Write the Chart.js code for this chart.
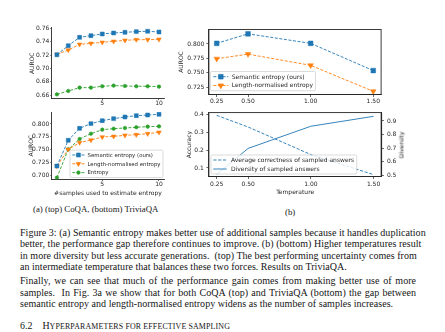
<!DOCTYPE html>
<html>
<head>
<meta charset="utf-8">
<script src="https://cdn.jsdelivr.net/npm/chart.js@4.4.1/dist/chart.umd.min.js"></script>
<style>
  html, body { margin: 0; padding: 0; background: #fff; }
  body { width: 445px; height: 332px; position: relative; overflow: hidden;
         font-family: "Liberation Serif", "Times New Roman", serif; color: #151515; }
  canvas { position: absolute; }
  .line { position: absolute; left: 20px; width: 396px; white-space: nowrap;
          font-size: 10px; letter-spacing: 0.03px; line-height: 11px; }
  .just { text-align: justify; text-align-last: justify; }
  .cap { position: absolute; font-size: 8.8px; line-height: 10px; white-space: nowrap; }
  .vlabel { position: absolute; font-family: "DejaVu Sans", sans-serif; font-size: 6px;
            color: #222; transform: translate(-50%, -50%) rotate(-90deg); white-space: nowrap; }
  .sc { font-size: 7.9px; letter-spacing: 0.15px; }
</style>
</head>
<body>
<canvas id="coqa" width="170" height="106" style="left:0;top:0"></canvas>
<canvas id="trivia" width="170" height="94" style="left:0;top:106px"></canvas>
<canvas id="tempAuroc" width="235" height="106" style="left:175px;top:0"></canvas>
<canvas id="tempDiv" width="240" height="94" style="left:175px;top:106px"></canvas>

<div class="vlabel" style="left:400.5px;top:144.5px">Diversity</div>

<div class="cap" style="left:33px;top:204px">(a) (top) CoQA, (bottom) TriviaQA</div>
<div class="cap" style="left:285px;top:206.5px">(b)</div>

<div class="line just" style="top:226.8px">Figure 3: (a) Semantic entropy makes better use of additional samples because it handles duplication</div>
<div class="line just" style="top:238.2px">better, the performance gap therefore continues to improve. (b) (bottom) Higher temperatures result</div>
<div class="line just" style="top:249.5px">in more diversity but less accurate generations.&nbsp; (top) The best performing uncertainty comes from</div>
<div class="line" style="top:260.6px">an intermediate temperature that balances these two forces. Results on TriviaQA.</div>
<div class="line just" style="top:275.2px">Finally, we can see that much of the performance gain comes from making better use of more</div>
<div class="line just" style="top:286.5px">samples.&nbsp; In Fig. 3a we show that for both CoQA (top) and TriviaQA (bottom) the gap between</div>
<div class="line" style="top:297.8px">semantic entropy and length-normalised entropy widens as the number of samples increases.</div>
<div class="line" style="top:319.5px;font-size:9.9px">6.2&nbsp;&nbsp;&nbsp;&nbsp;H<span class="sc">YPERPARAMETERS FOR EFFECTIVE SAMPLING</span></div>

<script>
// ---- values ----
const sampleCounts = [1, 2, 3, 4, 5, 6, 7, 8, 9, 10];
const coqaSemantic   = [0.7205, 0.734, 0.7465, 0.749, 0.7515, 0.753, 0.754, 0.755, 0.7555, 0.7545];
const coqaLengthNorm = [0.721, 0.7275, 0.736, 0.7375, 0.739, 0.7405, 0.742, 0.743, 0.743, 0.7435];
const coqaEntropy    = [0.6615, 0.6665, 0.6715, 0.6715, 0.6735, 0.6745, 0.674, 0.6735, 0.6735, 0.673];
const triviaSemantic   = [0.7176, 0.768, 0.7915, 0.8007, 0.8065, 0.8105, 0.8137, 0.8163, 0.8176, 0.819];
const triviaLengthNorm = [0.7176, 0.7503, 0.7634, 0.7686, 0.7745, 0.7758, 0.7778, 0.779, 0.781, 0.7837];
const triviaEntropy    = [0.6948, 0.7503, 0.7706, 0.781, 0.7889, 0.7908, 0.7922, 0.7935, 0.7948, 0.7954];
const temperatures   = [0.25, 0.5, 1.0, 1.5];
const tempSemantic   = [0.8011, 0.8176, 0.8011, 0.754];
const tempLengthNorm = [0.7744, 0.7824, 0.763, 0.718];
const tempAccuracy   = [0.394, 0.329, 0.175, 0.063];
const tempDiversity  = [0.507, 0.698, 0.861, 0.934];

// ---- tick labels ----
const sampleTicks      = [5, 10];
const coqaTicks        = [0.66, 0.68, 0.70, 0.72, 0.74, 0.76];
const triviaTicks      = [0.700, 0.725, 0.750, 0.775, 0.800];
const tempAurocTicks   = [0.725, 0.750, 0.775, 0.800];
const temperatureTicks = [0.25, 0.50, 1.00, 1.50];
const accuracyTicks    = [0.1, 0.2, 0.3, 0.4];
const diversityTicks   = [0.5, 0.6, 0.7, 0.8, 0.9];

// ---- styling ----
const SANS = '"DejaVu Sans", sans-serif';
const BLUE = '#1f77b4', ORANGE = '#ff7f0e', GREEN = '#2ca02c';
const INK = '#262626';

function drawMarker(ctx, style, r, rot, x, y, color) {
  ctx.save();
  ctx.fillStyle = color; ctx.strokeStyle = color; ctx.lineWidth = 0.6; ctx.setLineDash([]);
  ctx.beginPath();
  if (style === 'rect') {
    const s = r * Math.SQRT1_2;
    ctx.rect(x - s, y - s, 2 * s, 2 * s);
  } else if (style === 'triangle') {
    let a = (rot || 0) * Math.PI / 180;
    for (let k = 0; k < 3; k++) {
      const px = x + Math.sin(a) * r, py = y - Math.cos(a) * r;
      k ? ctx.lineTo(px, py) : ctx.moveTo(px, py);
      a += 2 * Math.PI / 3;
    }
    ctx.closePath();
  } else {
    ctx.arc(x, y, r, 0, Math.PI * 2);
  }
  ctx.fill(); ctx.stroke();
  ctx.restore();
}

// legend drawn inside the plot area, in the lower corner
const insetLegend = {
  id: 'insetLegend',
  afterDraw(chart, args, o) {
    if (!o || !o.show) return;
    const { ctx, chartArea: a } = chart;
    const items = chart.data.datasets;
    ctx.save();
    ctx.font = `${o.size}px ${SANS}`;
    const textW = Math.max(...items.map(d => ctx.measureText(d.label).width));
    const w = o.textStart + textW + o.padRight;
    const h = items.length * o.rowH + 2 * o.padY;
    const x0 = o.corner === 'right' ? a.right - o.dx - w : a.left + o.dx;
    const y0 = a.bottom - o.dy - h;
    ctx.beginPath();
    if (ctx.roundRect) ctx.roundRect(x0, y0, w, h, 1.5); else ctx.rect(x0, y0, w, h);
    ctx.fillStyle = 'rgba(255,255,255,0.8)';
    ctx.fill();
    ctx.strokeStyle = '#cccccc'; ctx.lineWidth = 0.7;
    ctx.stroke();
    items.forEach((d, i) => {
      const cy = y0 + o.padY + o.rowH * (i + 0.5);
      const sx = x0 + o.sampleStart, ex = sx + o.sampleLen;
      ctx.save();
      ctx.strokeStyle = d.borderColor; ctx.lineWidth = d.borderWidth;
      ctx.setLineDash(d.borderDash || []);
      ctx.beginPath(); ctx.moveTo(sx, cy); ctx.lineTo(ex, cy); ctx.stroke();
      ctx.restore();
      if (d.pointRadius > 0) drawMarker(ctx, d.pointStyle, d.pointRadius, d.rotation, (sx + ex) / 2, cy, d.pointBackgroundColor);
      ctx.fillStyle = INK; ctx.textBaseline = 'middle'; ctx.textAlign = 'left';
      ctx.fillText(d.label, x0 + o.textStart, cy + 0.3);
    });
    ctx.restore();
  }
};

// full box around the plot area
const frame = {
  id: 'frame',
  afterDatasetsDraw(chart, args, o) {
    if (!o || !o.show) return;
    const { ctx, chartArea: a } = chart;
    ctx.save();
    ctx.strokeStyle = INK; ctx.lineWidth = 0.9;
    ctx.strokeRect(a.left, a.top, a.right - a.left, a.bottom - a.top);
    if (o.rightWidth) {
      ctx.lineWidth = o.rightWidth;
      ctx.beginPath(); ctx.moveTo(a.right, a.top); ctx.lineTo(a.right, a.bottom); ctx.stroke();
    }
    ctx.restore();
  }
};
Chart.register(insetLegend, frame);

function series(label, xs, ys, color, style, radius, dash, extra) {
  return Object.assign({
    label,
    data: xs.map((x, i) => ({ x, y: ys[i] })),
    borderColor: color, backgroundColor: color,
    pointBackgroundColor: color, pointBorderColor: color,
    borderWidth: 0.9, borderDash: dash,
    pointStyle: style, pointRadius: radius, pointBorderWidth: 0.5,
    pointHoverRadius: radius, tension: 0
  }, extra || {});
}

function tickFont() { return { family: SANS, size: 6 }; }

function axis(o) {
  return {
    type: 'linear', position: o.position, min: o.min, max: o.max,
    afterBuildTicks: sc => { sc.ticks = o.ticks.map(v => ({ value: v })); },
    afterFit: sc => { if (o.width != null) sc.width = o.width; if (o.height != null) sc.height = o.height; },
    ticks: { font: tickFont(), color: INK, padding: o.pad, autoSkip: false, maxRotation: 0,
             callback: v => o.fmt(v) },
    grid: { display: true, drawOnChartArea: false, drawTicks: true, tickLength: o.tl,
            color: INK, lineWidth: 0.7 },
    border: { display: o.border !== false, color: INK, width: 0.9 },
    title: o.title ? { display: true, text: o.title, color: INK,
                       font: { family: SANS, size: 6 }, padding: o.titlePad } : { display: false }
  };
}

function baseOptions(layoutPad, scales, plugins) {
  return {
    responsive: false, animation: false, devicePixelRatio: 1,
    layout: { padding: layoutPad },
    scales,
    plugins: Object.assign({ legend: { display: false }, tooltip: { enabled: false } }, plugins),
    elements: { line: { fill: false } }
  };
}

// CoQA: AUROC vs number of samples
new Chart(document.getElementById('coqa'), {
  type: 'line',
  data: { datasets: [
    series('Semantic entropy (ours)', sampleCounts, coqaSemantic, BLUE, 'rect', 2.8, [3, 1.6]),
    series('Length-normalised entropy', sampleCounts, coqaLengthNorm, ORANGE, 'triangle', 2.7, [3, 1.6], { rotation: 180 }),
    series('Entropy', sampleCounts, coqaEntropy, GREEN, 'circle', 1.8, [3, 1.6])
  ] },
  options: baseOptions({ left: 0, top: 27.8, right: 5.9, bottom: 0 }, {
    x: axis({ position: 'bottom', min: 0.55, max: 10.45, ticks: sampleTicks, fmt: v => String(v),
              height: 7.3, tl: 1.5, pad: 0 }),
    y: axis({ position: 'left', min: 0.655, max: 0.7607, ticks: coqaTicks, fmt: v => v.toFixed(2),
              width: 51.8, tl: 1.5, pad: 1, title: 'AUROC', titlePad: { top: 28.4, bottom: 0 } })
  }, {})
});

// TriviaQA: AUROC vs number of samples
new Chart(document.getElementById('trivia'), {
  type: 'line',
  data: { datasets: [
    series('Semantic entropy (ours)', sampleCounts, triviaSemantic, BLUE, 'rect', 2.8, [3, 1.6]),
    series('Length-normalised entropy', sampleCounts, triviaLengthNorm, ORANGE, 'triangle', 2.7, [3, 1.6], { rotation: 180 }),
    series('Entropy', sampleCounts, triviaEntropy, GREEN, 'circle', 1.8, [3, 1.6])
  ] },
  options: baseOptions({ left: 0, top: 6, right: 5.9, bottom: 0 }, {
    x: axis({ position: 'bottom', min: 0.55, max: 10.45, ticks: sampleTicks, fmt: v => String(v),
              height: 20.5, tl: 1.5, pad: 0, title: '#samples used to estimate entropy',
              titlePad: { top: 0, bottom: 2.9 } }),
    y: axis({ position: 'left', min: 0.6912, max: 0.8235, ticks: triviaTicks, fmt: v => v.toFixed(3),
              width: 51.8, tl: 1.5, pad: 1, title: 'AUROC', titlePad: { top: 27.8, bottom: 0 } })
  }, {
    insetLegend: { show: true, corner: 'right', dx: 1.1, dy: 2, size: 5.4, rowH: 8.8, padY: 0.5,
                   sampleStart: 2.3, sampleLen: 12.3, textStart: 17.5, padRight: 2.5 }
  })
});

// TriviaQA: AUROC vs sampling temperature
new Chart(document.getElementById('tempAuroc'), {
  type: 'line',
  data: { datasets: [
    series('Semantic entropy (ours)', temperatures, tempSemantic, BLUE, 'rect', 3.3, [3, 1.6]),
    series('Length-normalised entropy', temperatures, tempLengthNorm, ORANGE, 'triangle', 3.2, [3, 1.6], { rotation: 180 })
  ] },
  options: baseOptions({ left: 0, top: 29.5, right: 235 - 206.1, bottom: 0 }, {
    x: axis({ position: 'bottom', min: 0.1875, max: 1.5625, ticks: temperatureTicks, fmt: v => v.toFixed(2),
              height: 11.5, tl: 2.5, pad: 1 }),
    y: axis({ position: 'left', min: 0.7125, max: 0.8251, ticks: tempAurocTicks, fmt: v => v.toFixed(3),
              width: 33.9, tl: 2.5, pad: 2, title: 'AUROC', titlePad: { top: 3.1, bottom: 0 } })
  }, {
    frame: { show: true },
    insetLegend: { show: true, corner: 'left', dx: 1.6, dy: 3.8, size: 6, rowH: 8.8, padY: 0.8,
                   sampleStart: 2.8, sampleLen: 15, textStart: 21.2, padRight: 2.5 }
  })
});

// TriviaQA: accuracy and diversity vs sampling temperature
new Chart(document.getElementById('tempDiv'), {
  type: 'line',
  data: { datasets: [
    series('Average correctness of sampled answers', temperatures, tempAccuracy, BLUE, 'circle', 0, [3.2, 1.6], { yAxisID: 'y' }),
    series('Diversity of sampled answers', temperatures, tempDiversity, BLUE, 'circle', 0, [], { yAxisID: 'y1' })
  ] },
  options: baseOptions({ left: 0, top: 112.3 - 106, right: 0, bottom: 0 }, {
    x: axis({ position: 'bottom', min: 0.1875, max: 1.5625, ticks: temperatureTicks, fmt: v => v.toFixed(2),
              height: 200 - 176.5, tl: 2.5, pad: 2, title: 'Temperature', titlePad: { top: 0, bottom: 4.1 } }),
    y: axis({ position: 'left', min: 0.0525, max: 0.4095, ticks: accuracyTicks, fmt: v => v.toFixed(1),
              width: 33.9, tl: 2.5, pad: 2.5, title: 'Accuracy', titlePad: { top: 10.4, bottom: 0 } }),
    y1: axis({ position: 'right', min: 0.4912, max: 0.9615, ticks: diversityTicks, fmt: v => v.toFixed(1),
               width: 415 - 381.4, tl: 2.5, pad: 3 })
  }, {
    frame: { show: true, rightWidth: 1.4 },
    insetLegend: { show: true, corner: 'left', dx: 2.1, dy: 2.5, size: 6, rowH: 9, padY: 0.5,
                   sampleStart: 2.3, sampleLen: 13.4, textStart: 20, padRight: 2.5 }
  })
});
</script>
</body>
</html>
